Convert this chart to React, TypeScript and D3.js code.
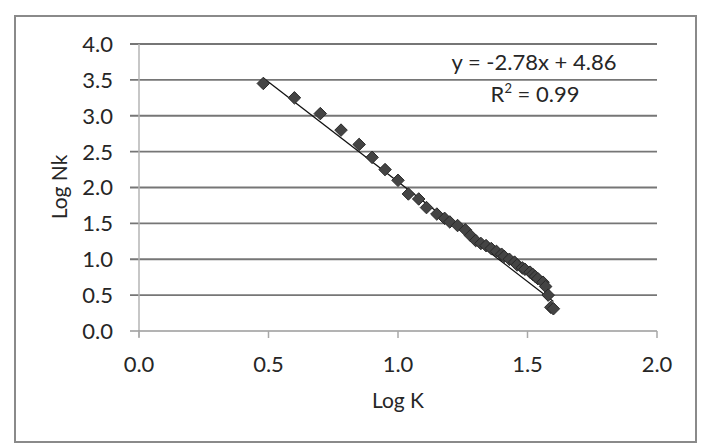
import * as d3 from "d3";
import { useEffect, useRef } from "react";

// log K (x) and log Nk (y)
const logK = [
  0.48, 0.6, 0.7, 0.78, 0.85, 0.9, 0.95, 1.0, 1.04, 1.08, 1.11, 1.15, 1.18, 1.2, 1.23, 1.26, 1.28, 1.3, 1.32,
  1.34, 1.36, 1.38, 1.4, 1.41, 1.43, 1.45, 1.46, 1.48, 1.49, 1.51, 1.52, 1.53, 1.54, 1.56, 1.57, 1.58, 1.59, 1.6,
];
const logNk = [
  3.45, 3.25, 3.03, 2.8, 2.6, 2.42, 2.25, 2.1, 1.91, 1.84, 1.72, 1.63, 1.57, 1.52, 1.47, 1.41, 1.33, 1.26, 1.22,
  1.19, 1.15, 1.11, 1.07, 1.04, 1.0, 0.96, 0.92, 0.88, 0.86, 0.82, 0.79, 0.76, 0.73, 0.68, 0.62, 0.5, 0.33, 0.31,
];
const xTicks = [0, 0.5, 1.0, 1.5, 2.0];
const yTicks = [0, 0.5, 1.0, 1.5, 2.0, 2.5, 3.0, 3.5, 4.0];
const slope = -2.78;
const intercept = 4.86;
const equationText = "y = -2.78x + 4.86";
const r2Value = "0.99";

export default function App() {
  const ref = useRef<SVGSVGElement>(null);

  useEffect(() => {
    if (!ref.current) return;
    document.body.style.margin = "0";
    const el = ref.current;
    d3.select(el).selectAll("*").remove();

    const W = 703;
    const H = 445;
    const font = "Lato, 'Open Sans', sans-serif";
    const ink = "#262626";
    const svg = d3.select(el).attr("width", W).attr("height", H);

    svg.append("rect").attr("width", W).attr("height", H).attr("fill", "#fff");

    // outer chart border
    svg
      .append("rect")
      .attr("x", 15)
      .attr("y", 16)
      .attr("width", 681)
      .attr("height", 426)
      .attr("fill", "none")
      .attr("stroke", "#8a8a8a")
      .attr("stroke-width", 2);

    const x = d3.scaleLinear().domain([0, 2]).range([139, 657]);
    const y = d3.scaleLinear().domain([0, 4]).range([331, 44]);

    // horizontal gridlines + left tick marks
    svg
      .selectAll(".grid")
      .data(yTicks.filter(d => d > 0))
      .join("line")
      .attr("x1", x(0) - 9)
      .attr("x2", x(2))
      .attr("y1", d => y(d))
      .attr("y2", d => y(d))
      .attr("stroke", "#767676")
      .attr("stroke-width", 1.8);

    // axes
    svg
      .append("line")
      .attr("x1", x(0))
      .attr("x2", x(0))
      .attr("y1", y(4))
      .attr("y2", y(0) + 6)
      .attr("stroke", "#b5b5b5")
      .attr("stroke-width", 1.5);
    svg
      .append("line")
      .attr("x1", x(0) - 9)
      .attr("x2", x(2))
      .attr("y1", y(0))
      .attr("y2", y(0))
      .attr("stroke", "#9a9a9a")
      .attr("stroke-width", 1.5);
    svg
      .selectAll(".xtick")
      .data(xTicks)
      .join("line")
      .attr("x1", d => x(d))
      .attr("x2", d => x(d))
      .attr("y1", y(0))
      .attr("y2", y(0) + 7)
      .attr("stroke", "#a8a8a8")
      .attr("stroke-width", 1.5);

    // tick labels
    svg
      .selectAll(".ylab")
      .data(yTicks)
      .join("text")
      .attr("x", 113)
      .attr("y", d => y(d))
      .attr("dy", "0.36em")
      .attr("text-anchor", "end")
      .attr("font-family", font)
      .attr("font-size", 22)
      .attr("fill", ink)
      .text(d => d.toFixed(1));
    svg
      .selectAll(".xlab")
      .data(xTicks)
      .join("text")
      .attr("x", d => x(d))
      .attr("y", 372)
      .attr("text-anchor", "middle")
      .attr("font-family", font)
      .attr("font-size", 22)
      .attr("fill", ink)
      .text(d => d.toFixed(1));

    // axis titles
    svg
      .append("text")
      .attr("x", 398)
      .attr("y", 408)
      .attr("text-anchor", "middle")
      .attr("font-family", font)
      .attr("font-size", 21)
      .attr("fill", ink)
      .text("Log K");
    svg
      .append("text")
      .attr("transform", "translate(67,187) rotate(-90)")
      .attr("text-anchor", "middle")
      .attr("font-family", font)
      .attr("font-size", 21)
      .attr("fill", ink)
      .text("Log Nk");

    // trendline
    const [xMin, xMax] = d3.extent(logK) as [number, number];
    svg
      .append("line")
      .attr("x1", x(xMin))
      .attr("y1", y(slope * xMin + intercept))
      .attr("x2", x(xMax))
      .attr("y2", y(slope * xMax + intercept))
      .attr("stroke", "#111")
      .attr("stroke-width", 1.3);

    // markers
    const pts = logK.map((k, i) => [k, logNk[i]]);
    const diamond = d3.symbol().type(d3.symbolDiamond2).size(100);
    svg
      .selectAll(".pt")
      .data(pts)
      .join("path")
      .attr("transform", d => `translate(${x(d[0])},${y(d[1])})`)
      .attr("d", diamond)
      .attr("fill", "#444")
      .attr("stroke", "#2a2a2a")
      .attr("stroke-width", 1);

    // equation
    svg
      .append("text")
      .attr("x", 534)
      .attr("y", 70)
      .attr("text-anchor", "middle")
      .attr("font-family", font)
      .attr("font-size", 22)
      .attr("fill", ink)
      .text(equationText);
    const r2 = svg
      .append("text")
      .attr("x", 535)
      .attr("y", 102)
      .attr("text-anchor", "middle")
      .attr("font-family", font)
      .attr("font-size", 22)
      .attr("fill", ink);
    r2.append("tspan").text("R");
    r2.append("tspan").attr("font-size", 13).attr("dy", -9).text("2");
    r2.append("tspan").attr("dy", 9).text(` = ${r2Value}`);
  }, []);

  return <svg ref={ref} style={{ display: "block" }} />;
}
